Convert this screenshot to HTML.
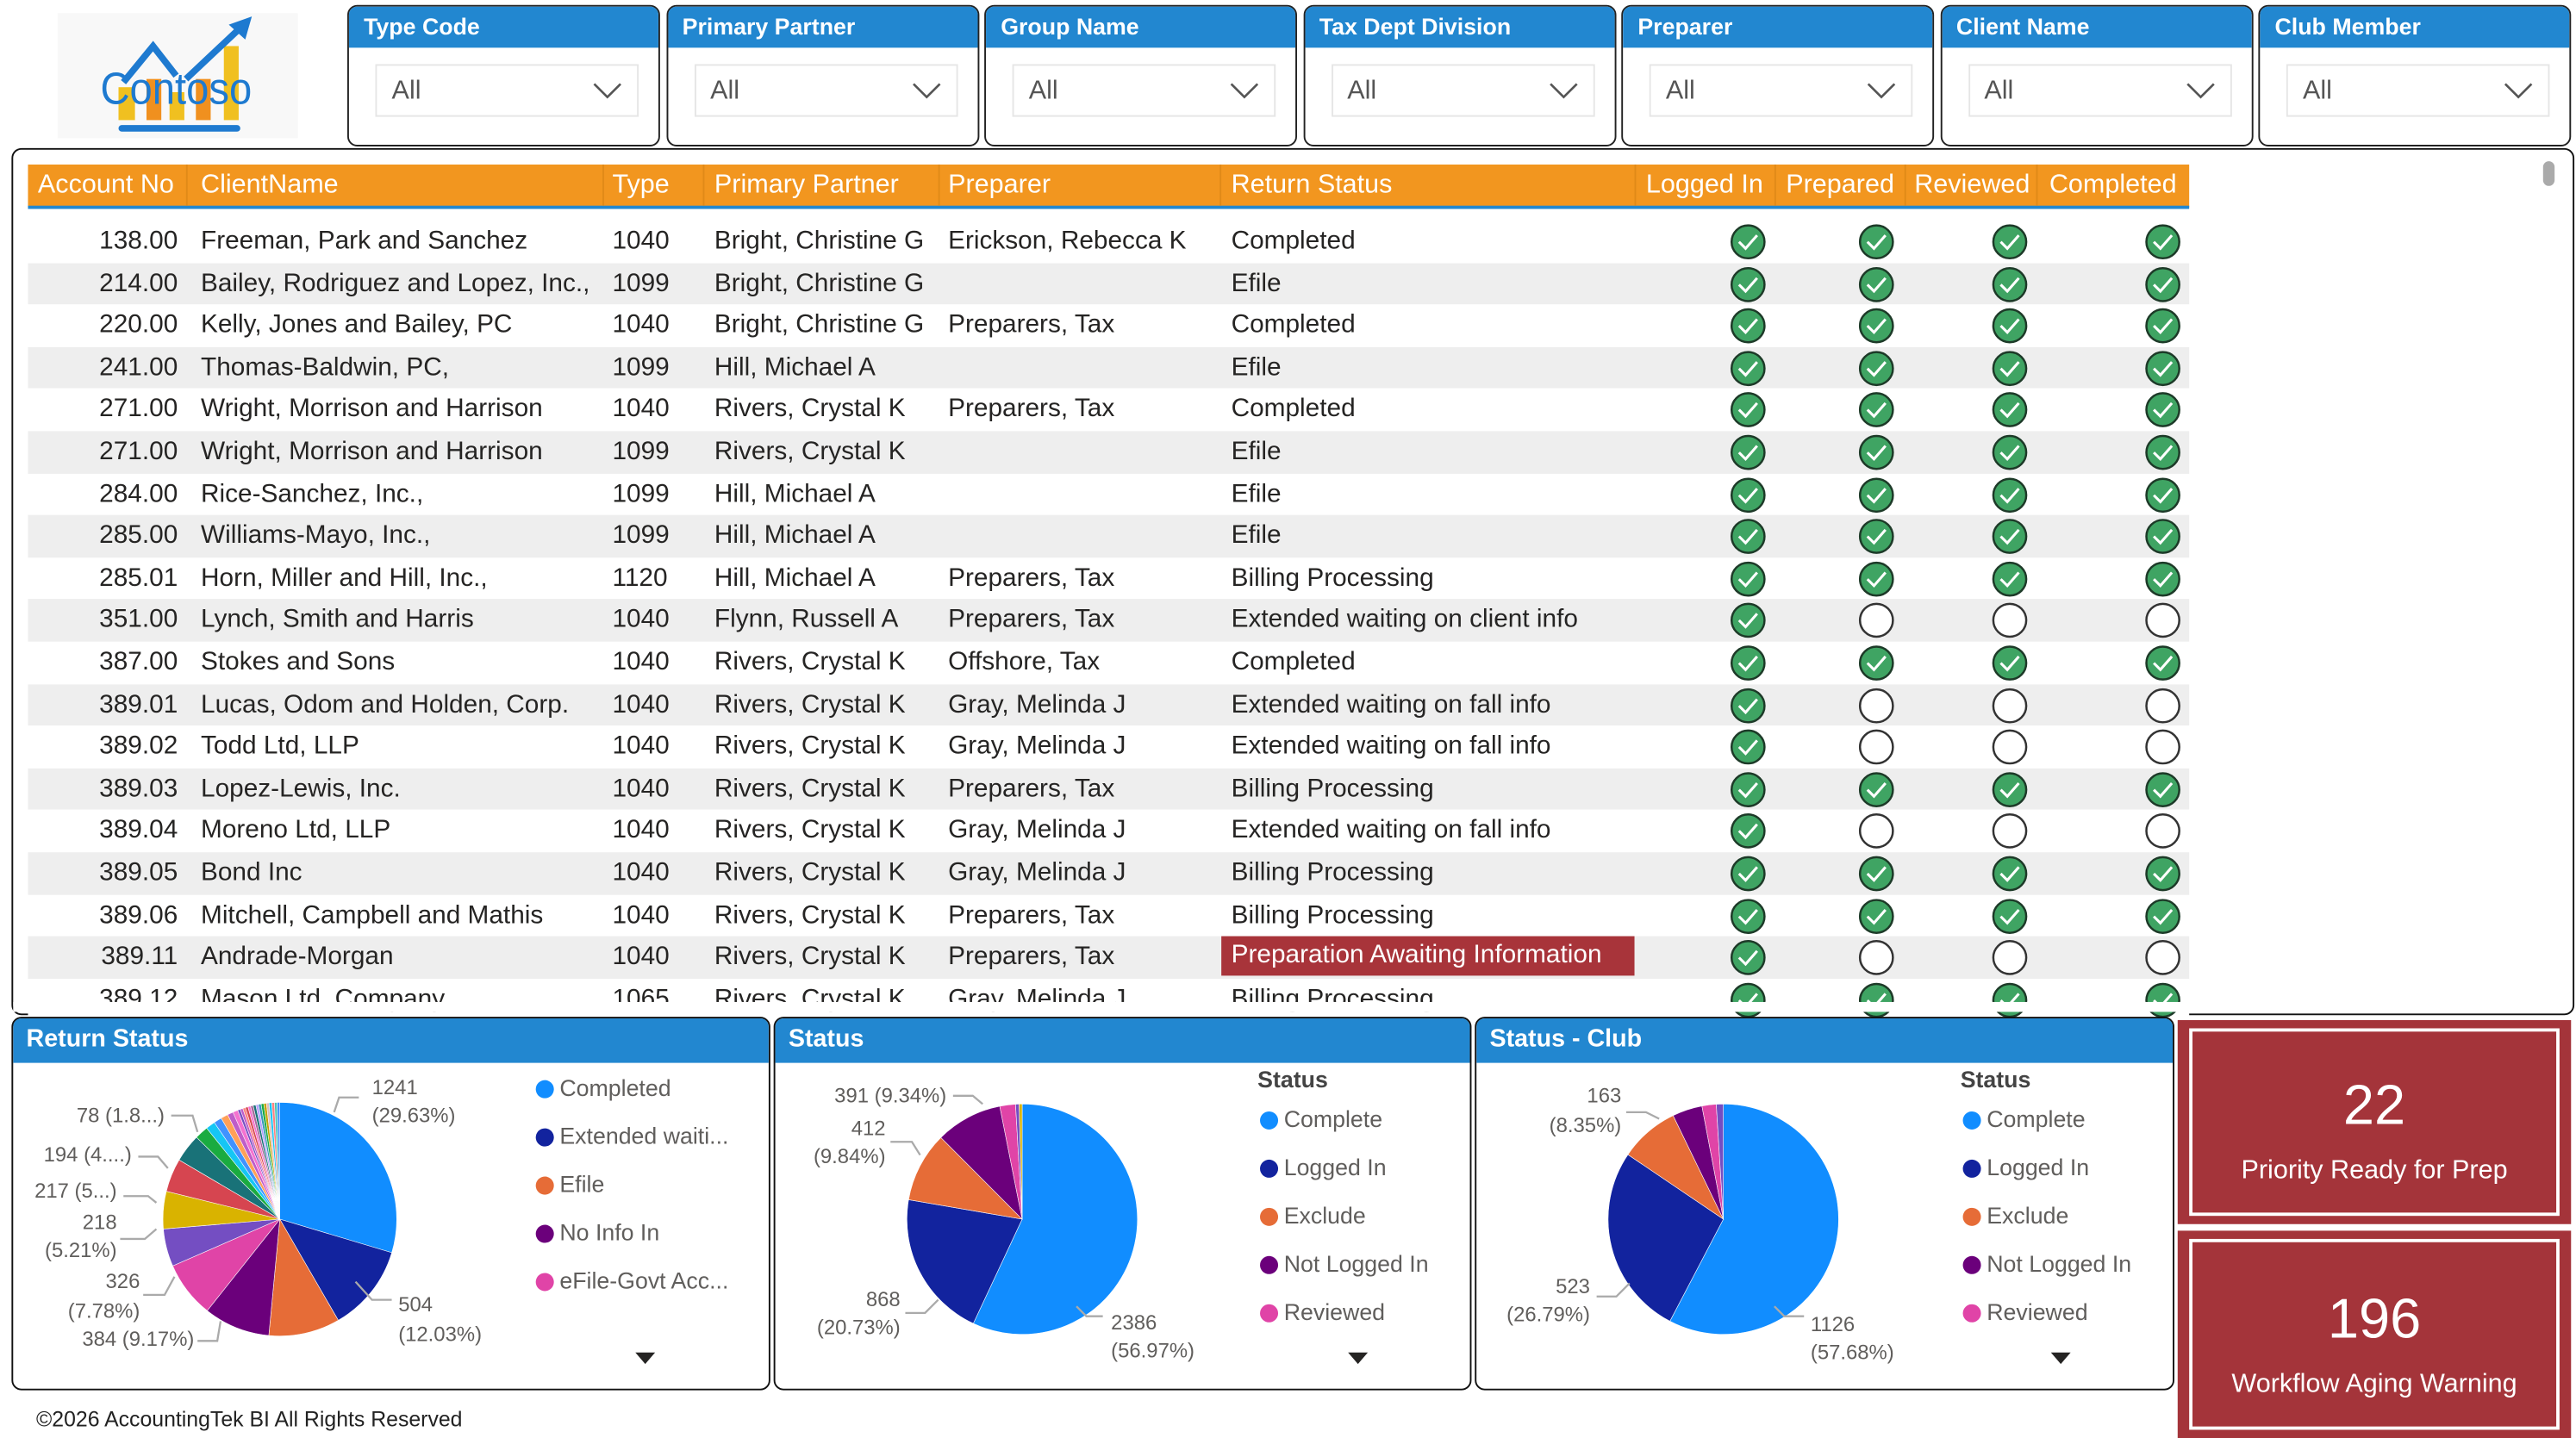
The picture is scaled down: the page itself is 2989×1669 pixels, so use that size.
<!DOCTYPE html>
<html><head><meta charset="utf-8">
<style>
html,body{margin:0;padding:0;background:#fff;width:2989px;height:1669px;overflow:hidden}
#root{position:absolute;left:0;top:0;width:1565px;height:874px;transform:scale(1.90990,1.90961);transform-origin:0 0;font-family:"Liberation Sans",sans-serif;color:#252423;background:#fff}
.abs{position:absolute}
.slicer{position:absolute;top:3px;width:188px;height:84px;border:1.5px solid #222;border-radius:6px;overflow:hidden;background:#fff}
.slicer .h{background:#2287d0;color:#fff;font-weight:bold;font-size:14px;height:25px;line-height:24px;padding-left:9px}
.slicer .dd{position:absolute;left:16px;top:35px;width:160px;height:32px;border:1.5px solid #e6e6e6;font-size:16px;color:#555;line-height:32px;padding-left:9px;box-sizing:border-box}
.slicer .dd svg{position:absolute;right:9px;top:9px}
.panel{position:absolute;border:1.5px solid #111;border-radius:6px;background:#fff;overflow:hidden}
.th{position:absolute;top:100px;height:26px;background:#f2961f;color:#fff;font-size:16px;line-height:25px}
.row{position:absolute;left:17px;width:1313px;height:25.6px;font-size:15.6px;line-height:25.6px}
.row span{position:absolute;white-space:nowrap}
.ph{background:#2287d0;color:#fff;font-weight:bold;font-size:15px;height:27px;line-height:26px;padding-left:8px}
.kpi{position:absolute;left:1323px;width:239px;background:#a4343a;color:#fff;text-align:center}
.kpi .in{position:absolute;left:7px;top:5px;right:7px;bottom:5px;border:2px solid #fff}
</style></head><body><div id="root">

<!-- logo -->
<div class="abs" style="left:35px;top:8px;width:146px;height:76px;background:#f8f8f8"></div>
<svg class="abs" style="left:35px;top:8px" width="146" height="76">
<rect x="37" y="45" width="10" height="20" fill="#f0c020"/><rect x="54" y="40" width="9" height="25" fill="#f0901f"/><rect x="68" y="48" width="9" height="17" fill="#f0c020"/><rect x="84" y="40" width="9" height="25" fill="#f0901f"/><rect x="101" y="20" width="9" height="45" fill="#f0c020"/>
<polyline points="40,42 58,20 72,38 " fill="none" stroke="#1e7ad0" stroke-width="4"/>
<polyline points="78,40 112,8" fill="none" stroke="#1e7ad0" stroke-width="4"/><polygon points="104,7 118,2 114,16" fill="#1e7ad0"/>
<rect x="37" y="68" width="74" height="4" rx="2" fill="#1e7ad0"/>
<text x="72" y="55" text-anchor="middle" font-size="27" fill="#1e7ad0" font-family="Liberation Sans" textLength="92" lengthAdjust="spacingAndGlyphs">Contoso</text>
</svg>

<div id="slicers"></div>

<!-- table -->
<div class="panel" style="left:7px;top:90px;width:1555px;height:525px"></div>
<div class="th" style="left:17px;width:1313px"></div>
<div class="abs" style="left:17px;top:125px;width:1313px;height:2px;background:#2287d0"></div>
<div id="hdr"></div>
<div id="rows"></div>
<div class="abs" style="left:1545px;top:98px;width:7px;height:15px;border-radius:4px;background:#aaa"></div>
<div class="abs" style="left:8px;top:609px;width:1550px;height:6px;background:#fff"></div>

<!-- bottom panels -->
<div class="panel" style="left:7px;top:618px;width:459px;height:225px"><div class="ph">Return Status</div></div>
<div class="panel" style="left:470px;top:618px;width:422px;height:225px"><div class="ph">Status</div></div>
<div class="panel" style="left:896px;top:618px;width:423px;height:225px"><div class="ph">Status - Club</div></div>
<svg id="pies" class="abs" style="left:0;top:0" width="1565" height="874" font-family="Liberation Sans"></svg>

<div class="kpi" style="top:620px;height:124px"><div class="in"></div><div class="abs" style="left:0;right:0;top:33px;font-size:34px">22</div><div class="abs" style="left:0;right:0;top:83px;font-size:16px">Priority Ready for Prep</div></div>
<div class="kpi" style="top:748px;height:126px"><div class="in"></div><div class="abs" style="left:0;right:0;top:35px;font-size:34px">196</div><div class="abs" style="left:0;right:0;top:85px;font-size:16px">Workflow Aging Warning</div></div>

<div class="abs" style="left:22px;top:855px;font-size:13px;color:#222">©2026 AccountingTek BI All Rights Reserved</div>
</div>
<script>
var names=["Type Code","Primary Partner","Group Name","Tax Dept Division","Preparer","Client Name","Club Member"];
var s="";names.forEach(function(n,i){var x=211+i*193.5;s+='<div class="slicer" style="left:'+x+'px"><div class="h">'+n+'</div><div class="dd">All<svg width="18" height="12"><polyline points="1,2 9,10 17,2" fill="none" stroke="#555" stroke-width="1.4"/></svg></div></div>';});
document.getElementById("slicers").innerHTML=s;
var hd=[["Account No",23],["ClientName",122],["Type",372],["Primary Partner",434],["Preparer",576],["Return Status",748],["Logged In",1000],["Prepared",1085],["Reviewed",1163],["Completed",1245]];
var h="";hd.forEach(function(a){h+='<div class="abs" style="left:'+a[1]+'px;top:100px;color:#fff;font-size:16px;line-height:25px;white-space:nowrap">'+a[0]+'</div>';});
[113,366,427,570,741,993,1078,1157,1237].forEach(function(x){h+='<div class="abs" style="left:'+x+'px;top:100px;width:1px;height:25px;background:#e08a18"></div>';});
document.getElementById("hdr").innerHTML=h;
var R=[["138.00","Freeman, Park and Sanchez","1040","Bright, Christine G","Erickson, Rebecca K","Completed",1],
["214.00","Bailey, Rodriguez and Lopez, Inc.,","1099","Bright, Christine G","","Efile",1],
["220.00","Kelly, Jones and Bailey, PC","1040","Bright, Christine G","Preparers, Tax","Completed",1],
["241.00","Thomas-Baldwin, PC,","1099","Hill, Michael A","","Efile",1],
["271.00","Wright, Morrison and Harrison","1040","Rivers, Crystal K","Preparers, Tax","Completed",1],
["271.00","Wright, Morrison and Harrison","1099","Rivers, Crystal K","","Efile",1],
["284.00","Rice-Sanchez, Inc.,","1099","Hill, Michael A","","Efile",1],
["285.00","Williams-Mayo, Inc.,","1099","Hill, Michael A","","Efile",1],
["285.01","Horn, Miller and Hill, Inc.,","1120","Hill, Michael A","Preparers, Tax","Billing Processing",1],
["351.00","Lynch, Smith and Harris","1040","Flynn, Russell A","Preparers, Tax","Extended waiting on client info",0],
["387.00","Stokes and Sons","1040","Rivers, Crystal K","Offshore, Tax","Completed",1],
["389.01","Lucas, Odom and Holden, Corp.","1040","Rivers, Crystal K","Gray, Melinda J","Extended waiting on fall info",0],
["389.02","Todd Ltd, LLP","1040","Rivers, Crystal K","Gray, Melinda J","Extended waiting on fall info",0],
["389.03","Lopez-Lewis, Inc.","1040","Rivers, Crystal K","Preparers, Tax","Billing Processing",1],
["389.04","Moreno Ltd, LLP","1040","Rivers, Crystal K","Gray, Melinda J","Extended waiting on fall info",0],
["389.05","Bond Inc","1040","Rivers, Crystal K","Gray, Melinda J","Billing Processing",1],
["389.06","Mitchell, Campbell and Mathis","1040","Rivers, Crystal K","Preparers, Tax","Billing Processing",1],
["389.11","Andrade-Morgan","1040","Rivers, Crystal K","Preparers, Tax","Preparation Awaiting Information",0],
["389.12","Mason Ltd, Company","1065","Rivers, Crystal K","Gray, Melinda J","Billing Processing",1]];
function ic(x,on){return on?'<svg class="abs" style="left:'+(x-11)+'px;top:2px" width="22" height="22"><circle cx="11" cy="11" r="10" fill="#3fa463" stroke="#1d3a28" stroke-width="1.3"/><polyline points="5.5,11 9.5,15 16.5,7" fill="none" stroke="#fff" stroke-width="1.6"/></svg>':'<svg class="abs" style="left:'+(x-11)+'px;top:2px" width="22" height="22"><circle cx="11" cy="11" r="10" fill="#fff" stroke="#333" stroke-width="1.3"/></svg>';}
var o="";R.forEach(function(r,i){var y=134+i*25.6;var bg=i%2?"#eeeeee":"#fff";
o+='<div class="row" style="top:'+y+'px;background:'+bg+'">';
o+='<span style="right:'+(1313-91)+'px">'+r[0]+'</span><span style="left:105px">'+r[1]+'</span><span style="left:355px">'+r[2]+'</span><span style="left:417px">'+r[3]+'</span><span style="left:559px">'+r[4]+'</span>';
if(i==17)o+='<span style="left:725px;top:0;width:251px;height:24px;background:#a8343a;color:#fff;padding-left:6px;line-height:24px;box-sizing:border-box">'+r[5]+'</span>';else o+='<span style="left:731px">'+r[5]+'</span>';
o+=ic(1045,1)+ic(1123,r[6])+ic(1204,r[6])+ic(1297,r[6]);o+='</div>';});
document.getElementById("rows").innerHTML=o;
var P="";
function pie(cx,cy,r,sl){var a=0;sl.forEach(function(s){var a2=a+s[0]/100*2*Math.PI;var x1=cx+r*Math.sin(a),y1=cy-r*Math.cos(a),x2=cx+r*Math.sin(a2),y2=cy-r*Math.cos(a2);P+='<path d="M'+cx+','+cy+' L'+x1.toFixed(2)+','+y1.toFixed(2)+' A'+r+','+r+' 0 '+(a2-a>Math.PI?1:0)+' 1 '+x2.toFixed(2)+','+y2.toFixed(2)+' Z" fill="'+s[1]+'" stroke="#fff" stroke-width="0.3"/>';a=a2;});}
var cols=["#744ec2","#d64550","#197278","#1aab40","#15c6f4","#4092ff","#ffa058","#be5dc9","#f472d0","#b5a1ff","#c4a200","#ff8080","#00dbbc","#5f6b6d","#fb8281","#a66999","#3599b8","#dfbfbf","#4ac5bb","#5f6b6d"];
var rs=[[29.63,"#118dff"],[12.03,"#12239e"],[9.84,"#e66c37"],[9.17,"#6b007b"],[7.78,"#e044a7"],[5.21,"#744ec2"],[5.18,"#d9b300"],[4.63,"#d64550"],[3.9,"#197278"],[1.86,"#1aab40"],[1.3,"#15c6f4"],[1.1,"#4092ff"],[1.0,"#ffa058"],[0.8,"#be5dc9"],[0.7,"#f472d0"]];
var rem=100;rs.forEach(function(s){rem-=s[0]});for(var k=0;k<16;k++)rs.push([rem/16,cols[(k*7)%cols.length]]);
pie(170,741,71,rs);
pie(621,741,70,[[56.97,"#118dff"],[20.73,"#12239e"],[9.84,"#e66c37"],[9.34,"#6b007b"],[2.2,"#e044a7"],[0.5,"#744ec2"],[0.42,"#d9b300"]]);
pie(1047,741,70,[[57.68,"#118dff"],[26.79,"#12239e"],[8.35,"#e66c37"],[4.2,"#6b007b"],[2.0,"#e044a7"],[0.98,"#744ec2"]]);
function t(x,y,s,anc){P+='<text x="'+x+'" y="'+y+'" font-size="12.5" fill="#605e5c" text-anchor="'+(anc||"start")+'">'+s+'</text>';}
function ln(p){P+='<polyline points="'+p+'" fill="none" stroke="#aaa" stroke-width="1.2"/>';}
t(226,665,"1241");t(226,682,"(29.63%)");ln("218,667 206,667 203,676");
t(100,682,"78 (1.8...)","end");ln("104,678 117,678 120,688");
t(80,706,"194 (4....)","end");ln("84,703 96,703 102,710");
t(71,728,"217 (5...)","end");ln("75,727 90,727 95,731");
t(71,747,"218","end");t(71,764,"(5.21%)","end");ln("73,753 88,753 95,747");
t(85,783,"326","end");t(85,801,"(7.78%)","end");ln("87,787 100,787 106,776");
t(118,818,"384 (9.17%)","end");ln("120,815 132,815 134,803");
t(242,797,"504");t(242,815,"(12.03%)");ln("238,790 226,790 216,779");
t(575,670,"391 (9.34%)","end");ln("579,666 591,666 597,671");
t(538,690,"412","end");t(538,707,"(9.84%)","end");ln("541,694 554,694 559,702");
t(547,794,"868","end");t(547,811,"(20.73%)","end");ln("550,798 562,798 570,790");
t(675,808,"2386");t(675,825,"(56.97%)");ln("670,800 660,800 654,794");
t(985,670,"163","end");t(985,688,"(8.35%)","end");ln("988,676 1000,676 1008,680");
t(966,786,"523","end");t(966,803,"(26.79%)","end");ln("970,788 982,788 990,780");
t(1100,809,"1126");t(1100,826,"(57.68%)");ln("1096,800 1084,800 1078,794");
function lg(x,y,c,s){P+='<circle cx="'+x+'" cy="'+(y-4)+'" r="5.5" fill="'+c+'"/><text x="'+(x+9)+'" y="'+y+'" font-size="14" fill="#605e5c">'+s+'</text>';}
var lc=["#118dff","#12239e","#e66c37","#6b007b","#e044a7"];
["Completed","Extended waiti...","Efile","No Info In","eFile-Govt Acc..."].forEach(function(s,i){lg(331,666+i*29.3,lc[i],s)});
[[764,771],[1191,1198]].forEach(function(q){P+='<text x="'+q[0]+'" y="661" font-size="14" font-weight="bold" fill="#444">Status</text>';
["Complete","Logged In","Exclude","Not Logged In","Reviewed"].forEach(function(s,i){lg(q[1],685+i*29.3,lc[i],s)});});
[[392],[825],[1252]].forEach(function(q){P+='<polygon points="'+(q[0]-6)+',822 '+(q[0]+6)+',822 '+q[0]+',829" fill="#252423"/>';});
document.getElementById("pies").innerHTML=P;
</script>
</body></html>
